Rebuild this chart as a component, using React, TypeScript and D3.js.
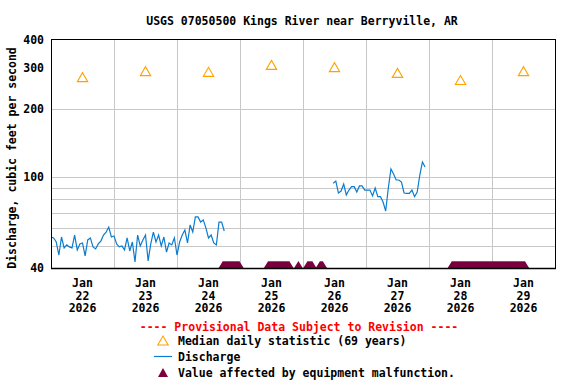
import React from "react";
import * as d3 from "d3";

// hourly discharge, first run starts Jan 22 00:00
const dischargeStartA = "2026-01-22T00:00:00Z";
const dischargeA = [
  54.7, 54.2, 52.0, 45.6, 54.7, 49.0, 50.5, 49.5, 49.0, 55.8,
  48.0, 51.0, 51.5, 45.2, 53.1, 54.2, 49.5, 48.5, 51.0, 52.5,
  55.8, 57.5, 60.5, 54.7, 55.3, 51.0, 49.5, 50.0, 48.0, 54.2,
  47.5, 52.0, 42.5, 55.8, 50.0, 53.1, 55.8, 43.0, 51.0, 57.5,
  52.0, 55.8, 50.0, 54.7, 47.0, 51.5, 50.5, 54.2, 45.6, 52.0,
  55.8, 58.7, 51.5, 61.8, 57.5, 67.0, 67.0, 63.6, 65.0, 60.0,
  54.2, 55.8, 51.5, 50.5, 63.6, 63.6, 58.1,
];

// second run after the gap, hourly from Jan 26 11:30
const dischargeStartB = "2026-01-26T11:30:00Z";
const dischargeB = [
  94.1, 96.3, 85.3, 87.0, 93.4, 83.6, 87.9, 90.9, 90.9, 86.2,
  91.6, 91.6, 87.9, 87.9, 87.9, 82.8, 89.7, 82.2, 82.2, 77.9,
  71.1, 89.7, 108.7, 103.4, 97.3, 97.3, 95.3, 85.3, 85.0, 85.0,
  87.9, 82.2, 86.2, 102.3, 116.7, 110.9,
];

const medianDays = [
  "2026-01-22", "2026-01-23", "2026-01-24", "2026-01-25",
  "2026-01-26", "2026-01-27", "2026-01-28", "2026-01-29",
];
const medianValues = [275, 292, 290, 311, 304, 287, 267, 292];

const malfunctionStart = [
  "2026-01-24T17:30:00Z", "2026-01-25T10:45:00Z", "2026-01-25T22:15:00Z",
  "2026-01-26T01:45:00Z", "2026-01-26T06:30:00Z", "2026-01-28T08:45:00Z",
];
const malfunctionEnd = [
  "2026-01-24T23:45:00Z", "2026-01-25T18:45:00Z", "2026-01-25T22:15:00Z",
  "2026-01-26T03:30:00Z", "2026-01-26T07:30:00Z", "2026-01-29T12:30:00Z",
];

const yTicks = [40, 100, 200, 300, 400];
const yGrid = [50, 60, 70, 80, 90, 100, 200];

const FONT = "'DejaVu Sans Mono', monospace";
const LINE = "#0b7ccf";
const MEDIAN = "#ffa200";
const MALF = "#7a003f";

const hourly = (start: string, values: number[]) => {
  const t0 = new Date(start).getTime();
  return values.map((v, i) => ({ t: new Date(t0 + i * 3600e3), v }));
};

export default function App() {
  const width = 576;
  const height = 384;
  const left = 51, right = 555, top = 40, bottom = 268;

  const x = d3
    .scaleUtc()
    .domain([new Date("2026-01-22T00:00:00Z"), new Date("2026-01-30T00:00:00Z")])
    .range([left, right]);
  const y = d3.scaleLog().domain([40, 400]).range([bottom, top]);

  const line = d3
    .line<{ t: Date; v: number }>()
    .x((d) => x(d.t))
    .y((d) => y(d.v));

  const segA = hourly(dischargeStartA, dischargeA);
  const segB = hourly(dischargeStartB, dischargeB);

  const days = d3.utcDay.range(x.domain()[0], x.domain()[1]);
  const midnights = days.slice(1);

  // one flag triangle every 15 minutes inside each flagged span
  const flags: Date[] = [];
  malfunctionStart.forEach((s, i) => {
    const a = new Date(s);
    const b = new Date(new Date(malfunctionEnd[i]).getTime() + 1);
    d3.utcMinute.every(15)!.range(a, b).forEach((t) => flags.push(t));
  });

  const tri = (cx: number, base: number, hw: number, h: number) =>
    `M${cx - hw},${base}L${cx + hw},${base}L${cx},${base - h}Z`;

  return (
    <svg
      width={width}
      height={height}
      style={{ position: "absolute", left: 0, top: 0, background: "#fff" }}
      fontFamily={FONT}
      fontWeight="bold"
      fontSize={11.5}
    >
      <rect width={width} height={height} fill="#fff" />
      <text x={302} y={25} textAnchor="middle">
        USGS 07050500 Kings River near Berryville, AR
      </text>

      {/* grid */}
      <g stroke="#c8c8c8" strokeWidth={1} shapeRendering="crispEdges">
        {yGrid.map((v) => (
          <line key={v} x1={left} x2={right} y1={Math.round(y(v)) + 0.5} y2={Math.round(y(v)) + 0.5} />
        ))}
        {midnights.map((d) => (
          <line key={+d} x1={Math.round(x(d)) + 0.5} x2={Math.round(x(d)) + 0.5} y1={top} y2={bottom} />
        ))}
      </g>

      {/* median daily statistic */}
      {medianDays.map((d, i) => {
        const cx = x(new Date(d + "T12:00:00Z"));
        const cy = y(medianValues[i]);
        return (
          <path key={d} d={tri(cx, cy + 4.5, 5.2, 9)} fill="none" stroke={MEDIAN} strokeWidth={1.1} />
        );
      })}

      {/* discharge */}
      <path d={line(segA) ?? ""} fill="none" stroke={LINE} strokeWidth={1.2} />
      <path d={line(segB) ?? ""} fill="none" stroke={LINE} strokeWidth={1.2} />

      {/* equipment malfunction flags */}
      <g fill={MALF}>
        {flags.map((t, i) => (
          <path key={i} d={tri(x(t), bottom, 4.3, 7)} />
        ))}
      </g>

      {/* frame */}
      <rect
        x={left + 0.5}
        y={top - 0.5}
        width={right - left}
        height={bottom - top + 0.5}
        fill="none"
        stroke="#000"
        strokeWidth={1}
        shapeRendering="crispEdges"
      />
      <line x1={left} x2={right + 1} y1={bottom + 0.5} y2={bottom + 0.5} stroke="#000" strokeWidth={1.5} />

      {/* y axis labels */}
      {yTicks.map((v) => (
        <text key={v} x={44} y={y(v) + 4} textAnchor="end">
          {v}
        </text>
      ))}
      <text transform={`translate(16,158) rotate(-90)`} textAnchor="middle">
        Discharge, cubic feet per second
      </text>

      {/* x axis labels at noon */}
      {days.map((d) => {
        const cx = x(d3.utcHour.offset(d, 12));
        return (
          <text key={+d} x={cx} textAnchor="middle">
            <tspan x={cx} y={287}>Jan</tspan>
            <tspan x={cx} y={299.5}>{d3.utcFormat("%d")(d)}</tspan>
            <tspan x={cx} y={312}>{d3.utcFormat("%Y")(d)}</tspan>
          </text>
        );
      })}

      {/* legend */}
      <text x={299} y={330.5} textAnchor="middle" fill="#f00">
        ---- Provisional Data Subject to Revision ----
      </text>
      <path d={tri(163, 345, 5.2, 9)} fill="none" stroke={MEDIAN} strokeWidth={1.1} />
      <text x={178} y={345}>Median daily statistic (69 years)</text>
      <line x1={154} x2={172} y1={356.5} y2={356.5} stroke={LINE} strokeWidth={1.2} />
      <text x={178} y={361}>Discharge</text>
      <path d={tri(163, 377, 5, 9)} fill={MALF} />
      <text x={178} y={377}>Value affected by equipment malfunction.</text>
    </svg>
  );
}
